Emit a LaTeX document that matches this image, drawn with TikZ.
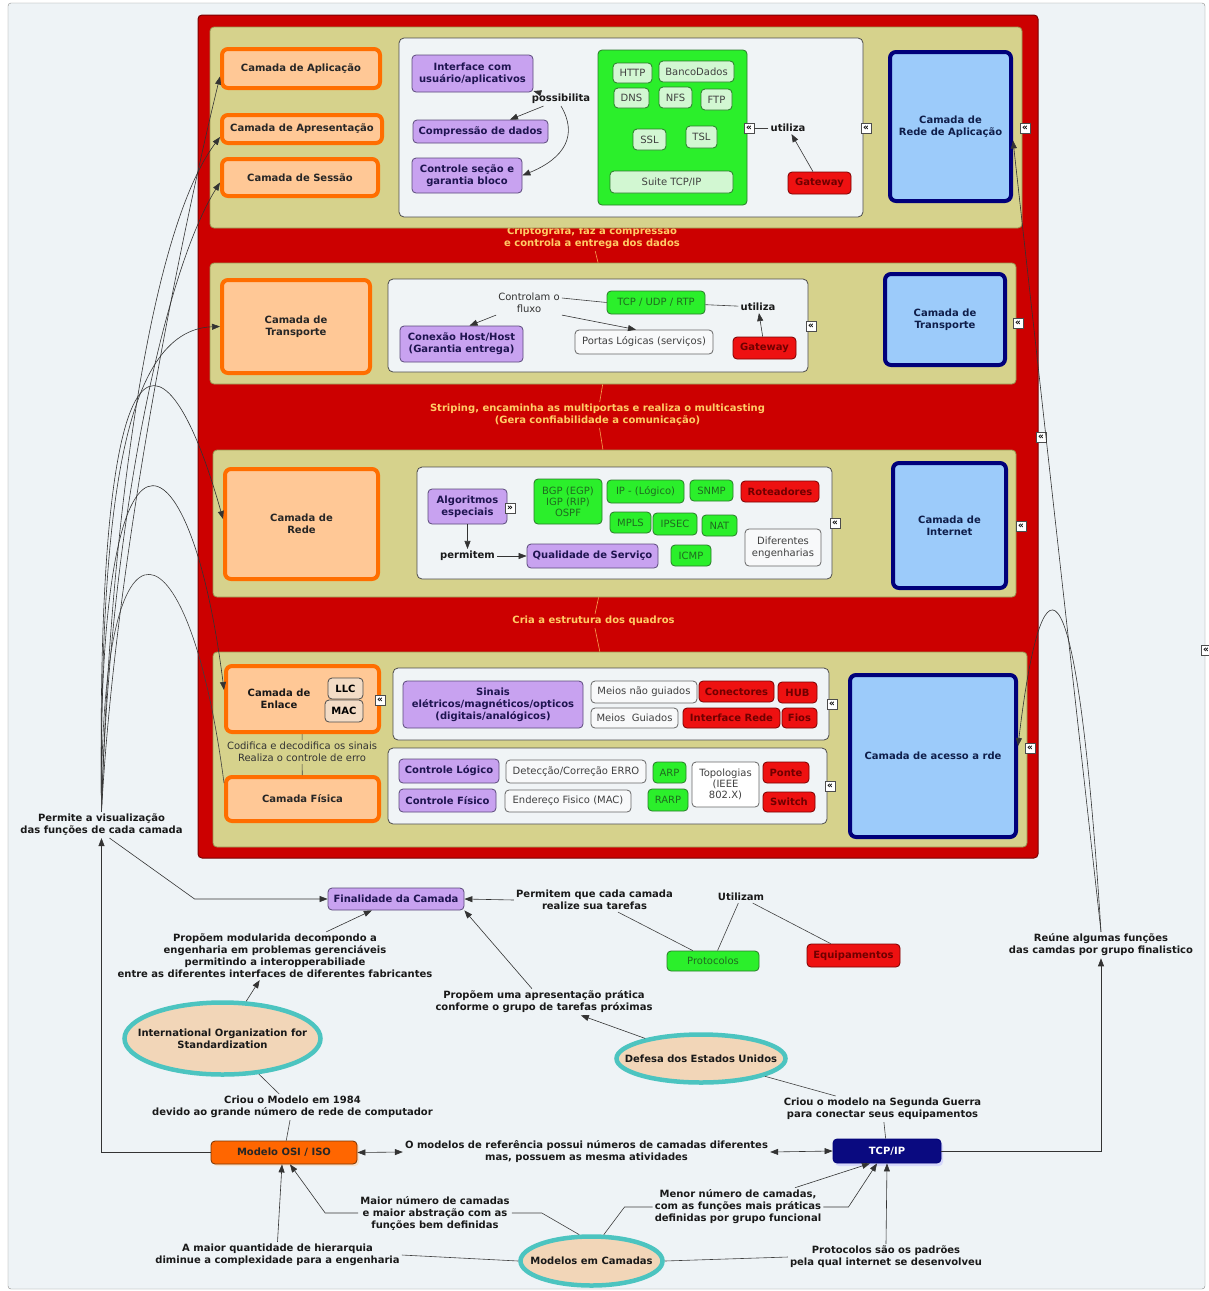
\documentclass[tikz,border=0pt]{standalone}
\usepackage{fontspec}
\setmainfont{DejaVu Sans}
\usetikzlibrary{arrows.meta,shapes.geometric,shadows}

\newcommand{\mapfont}{\fontsize{10}{12}\selectfont}

\definecolor{bgcol}{HTML}{EEF3F6}
\definecolor{redbg}{HTML}{CC0000}
\definecolor{rededge}{HTML}{7A0000}
\definecolor{khaki}{HTML}{D6D28C}
\definecolor{khakiedge}{HTML}{9A9550}
\definecolor{innerfill}{HTML}{F0F4F6}
\definecolor{orangefill}{HTML}{FFC896}
\definecolor{orangeedge}{HTML}{FF6E00}
\definecolor{lilacfill}{HTML}{C8A2F0}
\definecolor{lilacedge}{HTML}{5A4A7A}
\definecolor{lilactext}{HTML}{1E1450}
\definecolor{greenfill}{HTML}{2BEF2B}
\definecolor{greenedge}{HTML}{2A7A2A}
\definecolor{greentext}{HTML}{1F6B1F}
\definecolor{palegreen}{HTML}{D2F7D2}
\definecolor{redfill}{HTML}{EE1111}
\definecolor{redtext}{HTML}{700000}
\definecolor{bluefill}{HTML}{9CCBFA}
\definecolor{navyedge}{HTML}{00007A}
\definecolor{navytext}{HTML}{0F1E4A}
\definecolor{plainfill}{HTML}{F8F9FA}
\definecolor{bandtext}{HTML}{FFCC66}
\definecolor{tanfill}{HTML}{F2D6B8}
\definecolor{tealedge}{HTML}{4CC4C0}
\definecolor{subfill}{HTML}{F3DCC6}
\definecolor{osifill}{HTML}{FF6600}
\definecolor{osiedge}{HTML}{7A3300}
\definecolor{tcpfill}{HTML}{0A0A80}

\begin{document}
\begin{tikzpicture}[
    x=1pt,
    y=-1pt,
    every node/.style={font=\mapfont, inner sep=2pt},
    arr/.style={-{Triangle[length=8pt,width=6pt]}, black!80, line width=0.6pt},
    arrd/.style={{Triangle[length=8pt,width=6pt]}-{Triangle[length=8pt,width=6pt]}, black!80, line width=0.6pt},
    link/.style={black!75, line width=0.6pt},
    bandline/.style={bandtext!80!redbg, line width=0.6pt},
    panel/.style={draw=khakiedge, fill=khaki, rounded corners=4pt, line width=0.8pt},
    inner/.style={draw=black!70, fill=innerfill, rounded corners=5pt, line width=0.8pt},
    layer/.style={draw=orangeedge, fill=orangefill, line width=4pt, rounded corners=6pt, font=\mapfont\bfseries, text=black!85, align=center},
    tcplayer/.style={draw=navyedge, fill=bluefill, line width=4pt, rounded corners=6pt, font=\mapfont\bfseries, text=navytext, align=center},
    lilac/.style={draw=lilacedge, fill=lilacfill, rounded corners=4pt, line width=0.8pt, font=\mapfont\bfseries, text=lilactext, align=center},
    proto/.style={draw=greenedge, fill=greenfill, rounded corners=4pt, line width=0.8pt, text=greentext, align=center},
    pale/.style={draw=greenedge, fill=palegreen, rounded corners=4pt, line width=0.8pt, text=black!75},
    device/.style={draw=rededge, fill=redfill, rounded corners=4pt, line width=0.8pt, font=\mapfont\bfseries, text=redtext},
    plain/.style={draw=black!60, fill=plainfill, rounded corners=4pt, line width=0.8pt, text=black!75, align=center},
    sub/.style={draw=black!70, fill=subfill, rounded corners=4pt, line width=0.8pt, font=\mapfont\bfseries},
    lbl/.style={font=\mapfont\bfseries, align=center, text=black!90},
    note/.style={font=\mapfont, align=center, text=black!80},
    band/.style={font=\mapfont\bfseries, align=center, text=bandtext},
    mk/.style={draw=black!70, fill=white, inner sep=0pt, minimum size=10pt, font=\fontsize{9}{9}\selectfont\bfseries},
    org/.style={ellipse, draw=tealedge, fill=tanfill, line width=4.5pt}
]
\useasboundingbox (0,0) rectangle (1209,1291);

% Frame
\fill[white] (0,0) rectangle (1209,1291);
\draw[black!45, fill=bgcol, rounded corners=3pt] (8,3) rectangle (1205,1289);

% Red block with the layers
\draw[fill=redbg, draw=rededge, line width=1pt, rounded corners=4pt] (198,15) rectangle (1038,858);
\node[band] (bandA) at (592,238) {Criptografa, faz a compressão\\e controla a entrega dos dados};

\node[panel, minimum width=812, minimum height=201] (panelA) at (616,127.5) {};
\node[panel, minimum width=806, minimum height=121] (panelB) at (613,323.5) {};
\node[panel, minimum width=803, minimum height=147] (panelC) at (614.5,523.5) {};
\node[panel, minimum width=814, minimum height=195] (panelD) at (620,749.5) {};

\node[band] (bandB) at (597.5,415) {Striping, encaminha as multiportas e realiza o multicasting\\(Gera confiabilidade a comunicação)};
\node[band] (bandC) at (593.5,621) {Cria a estrutura dos quadros};

\draw[bandline] (bandA) -- (panelB);
\draw[bandline] (panelB) -- (bandB);
\draw[bandline] (bandB) -- (panelC);
\draw[bandline] (panelC) -- (bandC);
\draw[bandline] (bandC) -- (panelD);

% Application, presentation and session
\node[layer, minimum width=158, minimum height=39] (appl) at (301,68.5) {Camada de Aplicação};
\node[layer, minimum width=160, minimum height=28] (apres) at (302,129) {Camada de Apresentação};
\node[layer, minimum width=156, minimum height=37] (sess) at (300,177.5) {Camada de Sessão};

\node[inner, minimum width=464, minimum height=179] (innerA) at (631,127.5) {};
\node[lilac, minimum width=121, minimum height=37] (iface) at (472.5,73.5) {Interface com\\usuário/aplicativos};
\node[lilac, minimum width=135, minimum height=23] (compr) at (480.5,131.5) {Compressão de dados};
\node[lilac, minimum width=110, minimum height=35] (ctrl) at (467,175.5) {Controle seção e\\garantia bloco};
\node[lbl] (poss) at (561,99) {possibilita};

\node[proto, minimum width=149, minimum height=155] (greenA) at (672.5,127.5) {};
\node[pale, minimum width=39, minimum height=20] (http) at (632.5,73) {HTTP};
\node[pale, minimum width=75, minimum height=21] (banco) at (696.5,71.5) {BancoDados};
\node[pale, minimum width=35, minimum height=20] (dns) at (631.5,98) {DNS};
\node[pale, minimum width=33, minimum height=21] (nfs) at (675.5,97.5) {NFS};
\node[pale, minimum width=31, minimum height=21] (ftp) at (716.5,99.5) {FTP};
\node[pale, minimum width=33, minimum height=21] (ssl) at (649.5,139.5) {SSL};
\node[pale, minimum width=31, minimum height=22] (tsl) at (701.5,137) {TSL};
\node[pale, minimum width=123, minimum height=22] (suite) at (671.5,182) {Suite TCP/IP};

\node[lbl] (utilA) at (788,128) {utiliza};
\node[device, minimum width=63, minimum height=22] (gwA) at (819.5,183) {Gateway};
\node[tcplayer, minimum width=121, minimum height=149] (netA) at (950.5,126.5) {Camada de\\Rede de Aplicação};
\node[mk] (mkA1) at (749,128) {«};
\node[mk] (mkA2) at (866,128) {«};
\node[mk] (mkA3) at (1025,128) {«};

\draw[arr] (poss) -- (iface);
\draw[arr] (poss) -- (compr);
\draw[arr] (poss.south) .. controls (578,135) and (565,158) .. (ctrl.east);
\draw[link] (utilA) -- (mkA1);
\draw[arr] (gwA) -- (utilA);

% Transport
\node[layer, minimum width=148, minimum height=93] (transp) at (296,326.5) {Camada de\\Transporte};
\node[inner, minimum width=420, minimum height=93] (innerB) at (598,325.5) {};
\node[note] (flow) at (529,303) {Controlam o\\fluxo};
\node[lilac, minimum width=123, minimum height=36] (conex) at (461.5,344) {Conexão Host/Host\\(Garantia entrega)};
\node[plain, minimum width=138, minimum height=24] (portas) at (644,342) {Portas Lógicas (serviços)};
\node[proto, minimum width=98, minimum height=23] (tcpudp) at (656,302.5) {TCP / UDP / RTP};
\node[lbl] (utilB) at (758,307) {utiliza};
\node[device, minimum width=63, minimum height=22] (gwB) at (764.5,348) {Gateway};
\node[tcplayer, minimum width=120, minimum height=91] (netB) at (945,319.5) {Camada de\\Transporte};
\node[mk] (mkB1) at (811,326) {«};
\node[mk] (mkB2) at (1018,323) {«};

\draw[link] ([yshift=5pt]flow.east) -- (tcpudp.west);
\draw[arr] (flow.south west) -- ([xshift=8pt]conex.north);
\draw[arr] (flow.south east) -- ([xshift=-8pt]portas.north);
\draw[link] (tcpudp) -- (utilB);
\draw[arr] (gwB) -- (utilB);

% Network
\node[layer, minimum width=153, minimum height=110] (rede) at (301.5,524) {Camada de\\Rede};
\node[inner, minimum width=415, minimum height=112] (innerC) at (624.5,523) {};
\node[lilac, minimum width=79, minimum height=35] (algo) at (467.5,506.5) {Algoritmos\\especiais};
\node[mk] (mkC0) at (510,508) {»};
\node[lbl] (perm) at (467.5,556) {permitem};
\node[lilac, minimum width=131, minimum height=24] (qos) at (592.5,556) {Qualidade de Serviço};
\node[proto, minimum width=68, minimum height=45, font=\fontsize{10}{11}\selectfont] (bgp) at (568,501.5) {BGP (EGP)\\IGP (RIP)\\OSPF};
\node[proto, minimum width=77, minimum height=23] (ip) at (645.5,491.5) {IP - (Lógico)};
\node[proto, minimum width=43, minimum height=21] (snmp) at (711.5,490.5) {SNMP};
\node[device, minimum width=78, minimum height=21] (rot) at (780,491.5) {Roteadores};
\node[proto, minimum width=41, minimum height=21] (mpls) at (630.5,522.5) {MPLS};
\node[proto, minimum width=44, minimum height=22] (ipsec) at (675,524) {IPSEC};
\node[proto, minimum width=35, minimum height=21] (nat) at (719.5,525.5) {NAT};
\node[proto, minimum width=40, minimum height=21] (icmp) at (691,555.5) {ICMP};
\node[plain, minimum width=76, minimum height=37] (difer) at (783,547.5) {Diferentes\\engenharias};
\node[tcplayer, minimum width=113, minimum height=125] (netC) at (949.5,525.5) {Camada de\\Internet};
\node[mk] (mkC1) at (835,523) {«};
\node[mk] (mkC2) at (1021,526) {«};

\draw[arr] (algo) -- (perm);
\draw[arr] (perm) -- (qos);

% Data link and physical
\node[layer, minimum width=153, minimum height=66] (enlace) at (302.5,699) {};
\node[lbl] (enlaceT) at (279,699) {Camada de\\Enlace};
\node[sub, minimum width=35, minimum height=21] (llc) at (345.5,688.5) {LLC};
\node[sub, minimum width=38, minimum height=22] (mac) at (344,711) {MAC};
\node[mk] (mkD0) at (380,700) {«};
\node[note] (codif) at (302,752) {Codifica e decodifica os sinais\\Realiza o controle de erro};
\node[layer, minimum width=153, minimum height=44] (fisica) at (302.5,799) {Camada Física};

\node[inner, minimum width=436, minimum height=72] (innerD) at (611,704) {};
\node[lilac, minimum width=180, minimum height=47] (sinais) at (493,704.5) {Sinais\\elétricos/magnéticos/opticos\\(digitais/analógicos)};
\node[plain, minimum width=106, minimum height=22] (naog) at (644,692) {Meios não guiados};
\node[plain, minimum width=87, minimum height=20] (guiad) at (634.5,718) {Meios\ \ Guiados};
\node[device, minimum width=75, minimum height=21] (conect) at (736.5,691.5) {Conectores};
\node[device, minimum width=39, minimum height=21] (hub) at (797.5,692.5) {HUB};
\node[device, minimum width=97, minimum height=20] (ifrede) at (731.5,718) {Interface Rede};
\node[device, minimum width=35, minimum height=20] (fios) at (799.5,718) {Fios};
\node[mk] (mkD1) at (832,704) {«};

\node[inner, minimum width=439, minimum height=76] (innerE) at (607.5,786) {};
\node[lilac, minimum width=100, minimum height=24] (clog) at (449,771) {Controle Lógico};
\node[lilac, minimum width=97, minimum height=23] (cfis) at (447.5,800.5) {Controle Físico};
\node[plain, minimum width=140, minimum height=23] (detec) at (576,771.5) {Detecção/Correção ERRO};
\node[plain, minimum width=126, minimum height=22] (ender) at (568,801) {Endereço Fisico (MAC)};
\node[proto, minimum width=33, minimum height=21] (arp) at (669.5,772.5) {ARP};
\node[proto, minimum width=40, minimum height=22] (rarp) at (668,800) {RARP};
\node[plain, fill=white, minimum width=67, minimum height=45, font=\fontsize{10}{11}\selectfont] (topo) at (725.5,784.5) {Topologias\\(IEEE\\802.X)};
\node[device, minimum width=46, minimum height=21] (ponte) at (786,772.5) {Ponte};
\node[device, minimum width=52, minimum height=20] (switch) at (789,802) {Switch};
\node[mk] (mkD2) at (830,786) {«};
\node[tcplayer, minimum width=166, minimum height=162] (netD) at (933,756) {Camada de acesso a rde};
\node[mk] (mkD3) at (1030,748) {«};
\node[mk] (mkR) at (1041,437) {«};
\node[mk] (mkF) at (1206,650) {«};

\draw[link] (enlace) -- (codif);
\draw[link] (codif) -- (fisica);

% Concepts below
\node[lbl] (permite) at (101.5,825) {Permite a visualização\\das funções de cada camada};
\node[lilac, minimum width=136, minimum height=22] (final) at (396,899) {Finalidade da Camada};
\node[lbl] (tarefas) at (594.5,900) {Permitem que cada camada\\realize sua tarefas};
\node[lbl] (utilizam) at (741,897) {Utilizam};
\node[proto, minimum width=92, minimum height=20] (protoc) at (713,961) {Protocolos};
\node[device, minimum width=93, minimum height=23] (equip) at (853.5,955.5) {Equipamentos};
\node[lbl] (pratica) at (544,1002) {Propõem uma apresentação prática\\conforme o grupo de tarefas próximas};
\node[lbl] (modul) at (275,956) {Propõem modularida decompondo a\\engenharia em problemas gerenciáveis\\permitindo a interopperabiliade\\entre as diferentes interfaces de diferentes fabricantes};

\node[org, minimum width=196, minimum height=72] (iso) at (222.5,1038.5) {};
\node[lbl] (isoT) at (iso) {International Organization for\\Standardization};
\node[org, minimum width=169, minimum height=48] (defesa) at (701,1058.5) {};
\node[lbl] (defesaT) at (defesa) {Defesa dos Estados Unidos};
\node[org, minimum width=142, minimum height=49] (camadas) at (591.5,1261) {};
\node[lbl] (camadasT) at (camadas) {Modelos em Camadas};

\node[lbl] (criouA) at (292.5,1107) {Criou o Modelo em 1984\\devido ao grande número de rede de computador};
\node[draw=osiedge, fill=osifill, rounded corners=4pt, line width=0.8pt, font=\mapfont\bfseries, text=black!85, drop shadow={shadow xshift=2pt, shadow yshift=-2pt, fill=orange!35}, minimum width=146, minimum height=23] (osi) at (284,1152.5) {Modelo OSI / ISO};
\node[lbl] (refer) at (586.5,1152) {O modelos de referência possui números de camadas diferentes\\mas, possuem as mesma atividades};
\node[draw=navyedge, fill=tcpfill, rounded corners=4pt, line width=0.8pt, font=\mapfont\bfseries, text=white, drop shadow={shadow xshift=2pt, shadow yshift=-3pt, fill=blue!25}, minimum width=108, minimum height=24] (tcpip) at (887,1151) {TCP/IP};
\node[lbl] (criouB) at (882.5,1109) {Criou o modelo na Segunda Guerra\\para conectar seus equipamentos};
\node[lbl] (reune) at (1101,945) {Reúne algumas funções\\das camdas por grupo finalistico};
\node[lbl] (maior) at (435,1213) {Maior número de camadas\\e maior abstração com as\\funções bem definidas};
\node[lbl] (hier) at (277.5,1255) {A maior quantidade de hierarquia\\diminue a complexidade para a engenharia};
\node[lbl] (menor) at (738,1207) {Menor número de camadas,\\com as funções mais práticas\\definidas por grupo funcional};
\node[lbl] (padroes) at (886,1257) {Protocolos são os padrões\\pela qual internet se desenvolveu};

% Links from the visualisation label to the layers
\draw[arr] (permite.north) .. controls (115,560) and (180,240) .. ([yshift=-8pt]appl.west);
\draw[arr] (permite.north) .. controls (110,520) and (150,230) .. ([yshift=-8pt]apres.west);
\draw[arr] (permite.north) .. controls (110,520) and (165,270) .. ([yshift=-5pt]sess.west);
\draw[arr] (permite.north) .. controls (100,520) and (120,330) .. (transp.west);
\draw[arr] (permite.north) .. controls (95,280) and (170,330) .. ([yshift=5pt]rede.west);
\draw[arr] (permite.north) .. controls (95,380) and (190,420) .. ([yshift=9pt]enlace.west);
\draw[link] (permite.north) .. controls (100,480) and (190,520) .. ([yshift=16pt]fisica.west);

% Links of the bottom concepts
\draw[arr] ([xshift=8pt]permite.south) -- ([xshift=-133pt]final.west) -- (final.west);
\draw[arr] (osi.west) -| (permite.south);
\draw[arr] (tarefas.west) -- (final.east);
\draw[link] (tarefas) -- (protoc);
\draw[link] (utilizam) -- (protoc);
\draw[link] (utilizam) -- (equip);
\draw[arr] ([xshift=-12pt]pratica.north) -- (final.south east);
\draw[arr] (defesa) -- (pratica);
\draw[arr] (modul) -- (final);
\draw[arr] (iso) -- (modul);
\draw[link] (iso) -- (criouA);
\draw[link] (criouA) -- (osi);
\draw[arrd] (osi.east) -- (refer.west);
\draw[arrd] (refer.east) -- (tcpip.west);
\draw[link] (defesa) -- (criouB);
\draw[link] (criouB) -- (tcpip);
\draw[arr] (tcpip.east) -| (reune.south);
\draw[arr] (reune.north) -- ([yshift=-14pt]netA.east);
\draw[arr] (reune.north) .. controls (1075,520) and (1040,560) .. ([yshift=10pt]netD.east);

\draw[link] (camadas.115) -- ([xshift=30pt]maior.east) -- (maior.east);
\draw[arr] (maior.west) -- ([xshift=-33pt]maior.west) -- ([xshift=6pt]osi.south);
\draw[link] (camadas.west) -- (hier.east);
\draw[arr] (hier.north) -- ([xshift=-2pt]osi.south);
\draw[link] (camadas.65) -- ([xshift=-28pt]menor.west) -- (menor.west);
\draw[arr] ([xshift=57pt]menor.north) -- ([xshift=-17pt]tcpip.south);
\draw[arr] (menor.east) -- ([xshift=25pt]menor.east) -- ([xshift=-10pt]tcpip.south);
\draw[link] (camadas.east) -- (padroes.west);
\draw[arr] (padroes.north) -- (tcpip.south);

\end{tikzpicture}
\end{document}
